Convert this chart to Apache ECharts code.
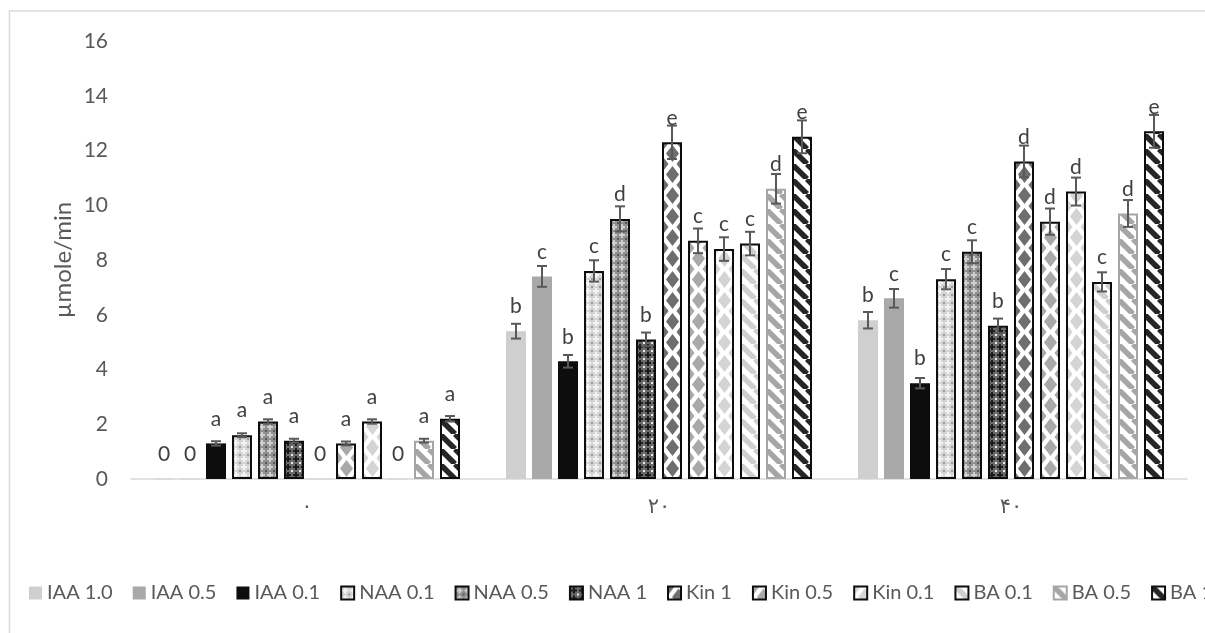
<!DOCTYPE html>
<html>
<head>
<meta charset="utf-8">
<script src="https://cdn.jsdelivr.net/npm/echarts@6/dist/echarts.min.js"></script>
<style>
  html, body { margin: 0; padding: 0; background: #ffffff; }
  #chart { width: 1205px; height: 633px; }
</style>
</head>
<body>
<div id="chart"></div>
<script>
// Categories (time, Persian digits) and series names
const categories = ['۰', '۲۰', '۴۰'];
const seriesNames = ['IAA 1.0', 'IAA 0.5', 'IAA 0.1', 'NAA 0.1', 'NAA 0.5', 'NAA 1',
                     'Kin 1', 'Kin 0.5', 'Kin 0.1', 'BA 0.1', 'BA 0.5', 'BA 1'];
const yTitle = 'µmole/min';

// Mean activity (µmole/min) per category
const valIAA10 = [0, 5.4, 5.8];
const valIAA05 = [0, 7.4, 6.6];
const valIAA01 = [1.3, 4.3, 3.5];
const valNAA01 = [1.6, 7.6, 7.3];
const valNAA05 = [2.1, 9.5, 8.3];
const valNAA1  = [1.4, 5.1, 5.6];
const valKin1  = [0, 12.3, 11.6];
const valKin05 = [1.3, 8.7, 9.4];
const valKin01 = [2.1, 8.4, 10.5];
const valBA01  = [0, 8.6, 7.2];
const valBA05  = [1.4, 10.6, 9.7];
const valBA1   = [2.2, 12.5, 12.7];

// Standard error per category
const errIAA10 = [0, 0.27, 0.30];
const errIAA05 = [0, 0.38, 0.34];
const errIAA01 = [0.08, 0.23, 0.19];
const errNAA01 = [0.07, 0.39, 0.37];
const errNAA05 = [0.08, 0.46, 0.42];
const errNAA1  = [0.07, 0.25, 0.26];
const errKin1  = [0, 0.61, 0.58];
const errKin05 = [0.07, 0.45, 0.48];
const errKin01 = [0.08, 0.43, 0.51];
const errBA01  = [0, 0.43, 0.35];
const errBA05  = [0.07, 0.54, 0.49];
const errBA1   = [0.10, 0.60, 0.60];

// Significance letters shown above each bar
const ltrIAA10 = ['0', 'b', 'b'];
const ltrIAA05 = ['0', 'c', 'c'];
const ltrIAA01 = ['a', 'b', 'b'];
const ltrNAA01 = ['a', 'c', 'c'];
const ltrNAA05 = ['a', 'd', 'c'];
const ltrNAA1  = ['a', 'b', 'b'];
const ltrKin1  = ['0', 'e', 'd'];
const ltrKin05 = ['a', 'c', 'd'];
const ltrKin01 = ['a', 'c', 'd'];
const ltrBA01  = ['0', 'c', 'c'];
const ltrBA05  = ['a', 'd', 'd'];
const ltrBA1   = ['a', 'e', 'e'];

// Y axis ticks
const yMin = 0, yMax = 16, yStep = 2;

const values  = [valIAA10, valIAA05, valIAA01, valNAA01, valNAA05, valNAA1, valKin1, valKin05, valKin01, valBA01, valBA05, valBA1];
const errors  = [errIAA10, errIAA05, errIAA01, errNAA01, errNAA05, errNAA1, errKin1, errKin05, errKin01, errBA01, errBA05, errBA1];
const letters = [ltrIAA10, ltrIAA05, ltrIAA01, ltrNAA01, ltrNAA05, ltrNAA1, ltrKin1, ltrKin05, ltrKin01, ltrBA01, ltrBA05, ltrBA1];

// ---- pattern tiles ----
function tile(w, h, draw) {
  const c = document.createElement('canvas');
  c.width = w; c.height = h;
  draw(c.getContext('2d'), w, h);
  return c;
}
function lattice(bg, fg, dot) {
  return tile(8, 8, (ctx) => {
    ctx.fillStyle = bg; ctx.fillRect(0, 0, 8, 8);
    ctx.fillStyle = fg;
    ctx.fillRect(3, 1, 2, 6);
    ctx.fillRect(1, 3, 6, 2);
    ctx.fillStyle = dot;
    ctx.fillRect(0, 0, 1, 1); ctx.fillRect(7, 0, 1, 1);
    ctx.fillRect(0, 7, 1, 1); ctx.fillRect(7, 7, 1, 1);
  });
}
function diamonds(fg) {
  return tile(21, 21, (ctx, w, h) => {
    ctx.fillStyle = '#ffffff'; ctx.fillRect(0, 0, w, h);
    ctx.fillStyle = fg;
    const pts = [[w / 2, h / 2], [0, 0], [w, 0], [0, h], [w, h]];
    pts.forEach(([cx, cy]) => {
      ctx.beginPath();
      ctx.moveTo(cx, cy - 8.5);
      ctx.lineTo(cx + 6.5, cy);
      ctx.lineTo(cx, cy + 8.5);
      ctx.lineTo(cx - 6.5, cy);
      ctx.closePath();
      ctx.fill();
    });
  });
}
function stripes(fg) {
  return tile(15, 15, (ctx, w, h) => {
    ctx.fillStyle = '#ffffff'; ctx.fillRect(0, 0, w, h);
    ctx.strokeStyle = fg; ctx.lineWidth = 5.5;
    for (let k = -w; k <= w; k += w) {
      ctx.beginPath();
      ctx.moveTo(k, 0);
      ctx.lineTo(k + w, h);
      ctx.stroke();
    }
  });
}

// Fill + border for each series (null image = solid colour)
const styles = [
  { solid: '#d0cfd0', border: null },
  { solid: '#aba8a8', border: null },
  { solid: '#0d0d0d', border: null },
  { image: lattice('#d4d4d4', '#f4f4f4', '#9a9a9a'), border: '#0d0d0d' },
  { image: lattice('#8f8f8f', '#d0d0d0', '#5a5a5a'), border: '#0d0d0d' },
  { image: lattice('#6a6a6a', '#1c1c1c', '#e8e8e8'), border: '#0d0d0d' },
  { image: diamonds('#6e6e6e'), border: '#0d0d0d' },
  { image: diamonds('#a9a9a9'), border: '#0d0d0d' },
  { image: diamonds('#d4d4d4'), border: '#0d0d0d' },
  { image: stripes('#cfcfcf'), border: '#0d0d0d' },
  { image: stripes('#a6a6a6'), border: '#a6a6a6' },
  { image: stripes('#262626'), border: '#0d0d0d' }
];

const BAR_W = 20;
const BAR_GAP = 6;
const STEP = BAR_W + BAR_GAP;
const FONT = "Lato, 'DejaVu Sans', sans-serif";
const TXT = '#595959';

function fillOf(i, px, py) {
  const s = styles[i];
  if (!s.image) return s.solid;
  return { image: s.image, repeat: 'repeat', x: px || 0, y: py || 0 };
}

function buildBarSeries(offsets) {
  return seriesNames.map((name, i) => ({
    name: name,
    type: 'bar',
    barWidth: BAR_W,
    barGap: (BAR_GAP / BAR_W * 100) + '%',
    itemStyle: {
      color: fillOf(i),
      borderColor: styles[i].border || 'transparent',
      borderWidth: styles[i].border ? 2 : 0
    },
    label: {
      show: true,
      position: 'top',
      distance: 14,
      fontFamily: FONT,
      fontSize: 21,
      color: '#404040',
      formatter: (p) => letters[i][p.dataIndex]
    },
    data: values[i].map((v, c) => {
      const item = { value: v, itemStyle: {} };
      if (v === 0) {
        item.itemStyle.borderColor = '#d9d9d9';
        item.itemStyle.borderWidth = 1;
      }
      if (offsets && styles[i].image) {
        item.itemStyle.color = fillOf(i, offsets[c][i], offsets.base);
      }
      return item;
    })
  }));
}

const errData = [];
values.forEach((arr, i) => arr.forEach((v, c) => errData.push([c, i, v, errors[i][c]])));

const errSeries = {
  name: 'err',
  type: 'custom',
  z: 5,
  data: errData,
  encode: { x: 0, y: 2 },
  renderItem: (params, api) => {
    const c = api.value(0), i = api.value(1), v = api.value(2), e = api.value(3);
    if (!e) return null;
    const cx = api.coord([c, v])[0] + (i - 5.5) * STEP;
    const yt = api.coord([c, v + e])[1];
    const yb = api.coord([c, v - e])[1];
    const st = { stroke: '#595959', lineWidth: 2 };
    const hw = 5;
    return {
      type: 'group',
      children: [
        { type: 'line', shape: { x1: cx, y1: yt, x2: cx, y2: yb }, style: st },
        { type: 'line', shape: { x1: cx - hw, y1: yt, x2: cx + hw, y2: yt }, style: st },
        { type: 'line', shape: { x1: cx - hw, y1: yb, x2: cx + hw, y2: yb }, style: st }
      ]
    };
  }
};

const chart = echarts.init(document.getElementById('chart'), null, { renderer: 'canvas' });

function makeOption(offsets) {
  return {
    backgroundColor: '#ffffff',
    animation: false,
    graphic: [{
      type: 'rect',
      silent: true,
      shape: { x: 9.5, y: 11, width: 1400, height: 800 },
      style: { fill: 'none', stroke: '#d9d9d9', lineWidth: 1.5 }
    }, {
      // vertical axis title
      type: 'text',
      silent: true,
      x: 63,
      y: 260,
      rotation: Math.PI / 2,
      style: {
        text: yTitle,
        font: '24px ' + FONT,
        fill: TXT,
        align: 'center',
        verticalAlign: 'middle'
      }
    }],
    grid: { left: 131, right: 18, top: 41, bottom: 154, containLabel: false },
    legend: {
      data: seriesNames,
      left: 24,
      top: 578,
      width: 1500,
      itemWidth: 13,
      itemHeight: 13,
      itemGap: 20,
      icon: 'rect',
      textStyle: { fontFamily: FONT, fontSize: 20, color: TXT }
    },
    xAxis: {
      type: 'category',
      data: categories,
      axisLine: { lineStyle: { color: '#d9d9d9', width: 1.5 } },
      axisTick: { show: false },
      axisLabel: { fontFamily: FONT, fontSize: 21, color: TXT, margin: 17 }
    },
    yAxis: {
      type: 'value',
      min: yMin,
      max: yMax,
      interval: yStep,
      axisLine: { show: false },
      axisTick: { show: false },
      splitLine: { show: false },
      axisLabel: { fontFamily: FONT, fontSize: 21, color: TXT, margin: 23 }
    },
    series: buildBarSeries(offsets).concat([errSeries])
  };
}

chart.setOption(makeOption(null));

// Align each pattern tile with the left edge of its own bar
const offsets = categories.map((_, c) => {
  const cx = chart.convertToPixel({ xAxisIndex: 0 }, c);
  return seriesNames.map((_, i) => cx + (i - 5.5) * STEP - BAR_W / 2);
});
offsets.base = chart.convertToPixel({ yAxisIndex: 0 }, 0);
chart.setOption(makeOption(offsets), { notMerge: true });
</script>
</body>
</html>
